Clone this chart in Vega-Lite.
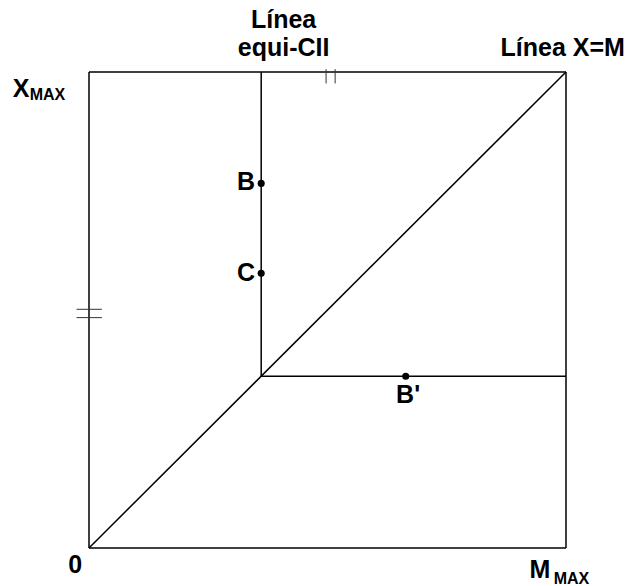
{
  "$schema": "https://vega.github.io/schema/vega-lite/v6.json",
  "width": 477,
  "height": 476,
  "autosize": {"type": "none"},
  "padding": {"left": 89, "top": 72, "right": 65, "bottom": 38},
  "background": "white",
  "config": {"view": {"stroke": null}},
  "datasets": {
    "lines": [
      {"x1": 0, "y1": 0, "x2": 1, "y2": 0},
      {"x1": 1, "y1": 0, "x2": 1, "y2": 1},
      {"x1": 1, "y1": 1, "x2": 0, "y2": 1},
      {"x1": 0, "y1": 1, "x2": 0, "y2": 0},
      {"x1": 0, "y1": 0, "x2": 1, "y2": 1},
      {"x1": 0.361, "y1": 0.361, "x2": 0.361, "y2": 1},
      {"x1": 0.361, "y1": 0.361, "x2": 1, "y2": 0.361}
    ],
    "ticks": [
      {"x1": 0.497, "y1": 0.976, "x2": 0.497, "y2": 1.006},
      {"x1": 0.516, "y1": 0.976, "x2": 0.516, "y2": 1.006},
      {"x1": -0.026, "y1": 0.5015, "x2": 0.027, "y2": 0.5015},
      {"x1": -0.026, "y1": 0.484, "x2": 0.027, "y2": 0.484}
    ],
    "points": [
      {"name": "B", "x": 0.361, "y": 0.766},
      {"name": "C", "x": 0.361, "y": 0.577},
      {"name": "B'", "x": 0.664, "y": 0.361}
    ],
    "mainCenter": [
      {"label": "Línea", "x": 0.408, "y": 1.093},
      {"label": "equi-CII", "x": 0.408, "y": 1.034},
      {"label": "Línea X=M", "x": 0.993, "y": 1.034},
      {"label": "X", "x": -0.1426, "y": 0.948},
      {"label": "0", "x": -0.029, "y": -0.0532},
      {"label": "M", "x": 0.9455, "y": -0.0637},
      {"label": "B'", "x": 0.669, "y": 0.3046}
    ],
    "subCenter": [
      {"label": "MAX", "x": -0.087, "y": 0.942},
      {"label": "MAX", "x": 1.0114, "y": -0.0755}
    ],
    "mainRight": [
      {"label": "B", "x": 0.348, "y": 0.752},
      {"label": "C", "x": 0.348, "y": 0.56}
    ]
  },
  "layer": [
    {
      "data": {"name": "lines"},
      "mark": {"type": "rule", "strokeWidth": 1.5, "color": "black", "clip": false},
      "encoding": {
        "x": {"field": "x1", "type": "quantitative", "scale": {"domain": [0, 1], "nice": false, "zero": false}, "axis": null},
        "y": {"field": "y1", "type": "quantitative", "scale": {"domain": [0, 1], "nice": false, "zero": false}, "axis": null},
        "x2": {"field": "x2"},
        "y2": {"field": "y2"}
      }
    },
    {
      "data": {"name": "ticks"},
      "mark": {"type": "rule", "strokeWidth": 1, "color": "#333333", "clip": false},
      "encoding": {
        "x": {"field": "x1", "type": "quantitative", "scale": {"domain": [0, 1], "nice": false, "zero": false}, "axis": null},
        "y": {"field": "y1", "type": "quantitative", "scale": {"domain": [0, 1], "nice": false, "zero": false}, "axis": null},
        "x2": {"field": "x2"},
        "y2": {"field": "y2"}
      }
    },
    {
      "data": {"name": "points"},
      "mark": {"type": "circle", "size": 50, "color": "black", "opacity": 1, "clip": false},
      "encoding": {
        "x": {"field": "x", "type": "quantitative", "scale": {"domain": [0, 1], "nice": false, "zero": false}, "axis": null},
        "y": {"field": "y", "type": "quantitative", "scale": {"domain": [0, 1], "nice": false, "zero": false}, "axis": null}
      }
    },
    {
      "data": {"name": "mainCenter"},
      "mark": {"type": "text", "font": "Liberation Sans", "fontWeight": "bold", "fontSize": 25, "align": "center", "baseline": "alphabetic", "color": "black", "clip": false},
      "encoding": {
        "x": {"field": "x", "type": "quantitative", "scale": {"domain": [0, 1], "nice": false, "zero": false}, "axis": null},
        "y": {"field": "y", "type": "quantitative", "scale": {"domain": [0, 1], "nice": false, "zero": false}, "axis": null},
        "text": {"field": "label"}
      }
    },
    {
      "data": {"name": "subCenter"},
      "mark": {"type": "text", "font": "Liberation Sans", "fontWeight": "bold", "fontSize": 16, "align": "center", "baseline": "alphabetic", "color": "black", "clip": false},
      "encoding": {
        "x": {"field": "x", "type": "quantitative", "scale": {"domain": [0, 1], "nice": false, "zero": false}, "axis": null},
        "y": {"field": "y", "type": "quantitative", "scale": {"domain": [0, 1], "nice": false, "zero": false}, "axis": null},
        "text": {"field": "label"}
      }
    },
    {
      "data": {"name": "mainRight"},
      "mark": {"type": "text", "font": "Liberation Sans", "fontWeight": "bold", "fontSize": 25, "align": "right", "baseline": "alphabetic", "color": "black", "clip": false},
      "encoding": {
        "x": {"field": "x", "type": "quantitative", "scale": {"domain": [0, 1], "nice": false, "zero": false}, "axis": null},
        "y": {"field": "y", "type": "quantitative", "scale": {"domain": [0, 1], "nice": false, "zero": false}, "axis": null},
        "text": {"field": "label"}
      }
    }
  ]
}
